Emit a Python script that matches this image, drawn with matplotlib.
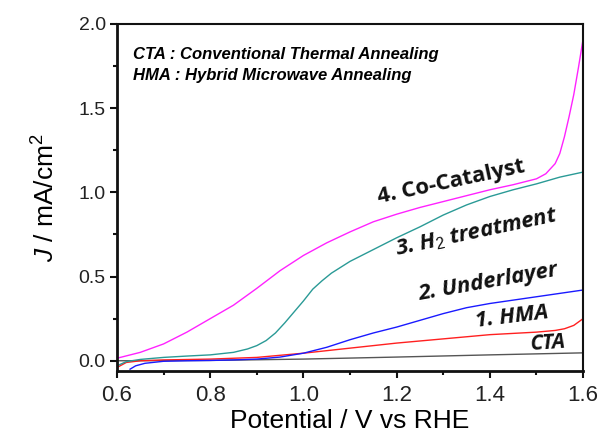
import numpy as np
import matplotlib.pyplot as plt
from matplotlib.ticker import MultipleLocator

# curvas J-V

x_cc = [0.60, 0.65, 0.70, 0.75, 0.80, 0.85, 0.90, 0.95, 1.00, 1.05, 1.10, 1.15, 1.20,
        1.25, 1.30, 1.35, 1.40, 1.45, 1.50, 1.52, 1.54, 1.55, 1.56, 1.57, 1.58, 1.59, 1.60]
y_cc = [0.015, 0.05, 0.10, 0.17, 0.25, 0.33, 0.43, 0.535, 0.625, 0.70, 0.765, 0.825, 0.87,
        0.91, 0.945, 0.98, 1.015, 1.045, 1.08, 1.11, 1.17, 1.23, 1.33, 1.45, 1.58, 1.74, 1.91]

x_h2 = [0.60, 0.62, 0.65, 0.70, 0.75, 0.80, 0.85, 0.88, 0.90, 0.92, 0.94, 0.96, 0.98, 1.00,
        1.02, 1.04, 1.06, 1.08, 1.10, 1.15, 1.20, 1.25, 1.30, 1.35, 1.40, 1.45, 1.50, 1.55, 1.60]
y_h2 = [-0.03, -0.005, 0.008, 0.02, 0.028, 0.035, 0.05, 0.07, 0.09, 0.12, 0.165, 0.225, 0.29, 0.355,
        0.425, 0.475, 0.52, 0.555, 0.59, 0.66, 0.73, 0.795, 0.865, 0.925, 0.975, 1.015, 1.05, 1.09, 1.12]

x_ul = [0.628, 0.64, 0.66, 0.70, 0.75, 0.80, 0.85, 0.90, 0.95, 1.00, 1.05, 1.10, 1.15,
        1.20, 1.25, 1.30, 1.35, 1.40, 1.45, 1.50, 1.55, 1.60]
y_ul = [-0.05, -0.03, -0.015, -0.003, 0.0, 0.002, 0.005, 0.01, 0.022, 0.045, 0.08, 0.125, 0.165,
        0.20, 0.24, 0.28, 0.315, 0.34, 0.36, 0.38, 0.40, 0.42]

x_hma = [0.60, 0.62, 0.65, 0.70, 0.80, 0.90, 1.00, 1.10, 1.20, 1.30, 1.40, 1.50, 1.54, 1.56, 1.58, 1.60]
y_hma = [-0.04, -0.01, 0.0, 0.005, 0.01, 0.02, 0.045, 0.075, 0.105, 0.13, 0.155, 0.17, 0.18, 0.19, 0.21, 0.25]

x_cta = [0.6, 0.8, 1.0, 1.2, 1.4, 1.6]
y_cta = [0.0, 0.002, 0.01, 0.022, 0.035, 0.047]

plt.rcParams['mathtext.fontset'] = 'custom'
plt.rcParams['mathtext.it'] = 'Liberation Sans:italic'
plt.rcParams['mathtext.rm'] = 'Liberation Sans'

fig = plt.figure(figsize=(6.03, 4.41), dpi=100)
ax = fig.add_axes([0.194, 0.159, 0.773, 0.787])

ax.plot(x_cta, y_cta, color='#555555', lw=1.0)
ax.plot(x_hma, y_hma, color='#ff2020', lw=1.0)
ax.plot(x_ul, y_ul, color='#1a1aff', lw=1.0)
ax.plot(x_h2, y_h2, color='#2a9a96', lw=1.0)
ax.plot(x_cc, y_cc, color='#ff22ff', lw=1.0)

ax.set_xlim(0.6, 1.6)
ax.set_ylim(-0.06, 2.0)
ax.xaxis.set_major_locator(MultipleLocator(0.2))
ax.xaxis.set_minor_locator(MultipleLocator(0.1))
ax.yaxis.set_major_locator(MultipleLocator(0.5))
ax.yaxis.set_minor_locator(MultipleLocator(0.25))
ax.tick_params(which='both', direction='out', top=False, right=False, width=1.5, color='#111111')
ax.tick_params(which='major', length=5)
ax.tick_params(which='minor', length=3)
ax.tick_params(axis='x', labelsize=16, pad=5, labelcolor='#222222')
ax.tick_params(axis='y', labelsize=14, pad=3, labelcolor='#222222')
ax.xaxis.set_major_formatter(plt.FormatStrFormatter('%.1f'))
ax.yaxis.set_major_formatter(plt.FormatStrFormatter('%.1f'))
for lab in ax.get_xticklabels() + ax.get_yticklabels():
    lab.set_family('Liberation Sans')

for s in ['left', 'bottom']:
    ax.spines[s].set_linewidth(2.0)
for s in ['top', 'right']:
    ax.spines[s].set_linewidth(1.5)
for s in ax.spines.values():
    s.set_color('#111111')

ax.set_xlabel('Potential / V vs RHE', fontsize=19, family='Liberation Sans', labelpad=2)
ax.set_ylabel(r'$J$ / mA/cm$^2$', fontsize=19, family='Liberation Sans', labelpad=14)

ax.text(0.035, 0.911, 'CTA : Conventional Thermal Annealing', transform=ax.transAxes,
        fontsize=12, family='Liberation Sans', weight='bold', style='italic', va='center')
ax.text(0.035, 0.850, 'HMA : Hybrid Microwave Annealing', transform=ax.transAxes,
        fontsize=12, family='Liberation Sans', weight='bold', style='italic', va='center')

lab_kw = dict(family='Open Sans', weight='bold', ha='center', va='center', color='#111111')
ax.text(1.317, 1.06, '4. Co-Catalyst', fontsize=16, rotation=12, **lab_kw)
ax.text(1.373, 0.76, r'3. H$_2$ treatment', fontsize=16, rotation=12, style='italic', **lab_kw)
ax.text(1.396, 0.465, '2. Underlayer', fontsize=16, rotation=10, style='italic', **lab_kw)
ax.text(1.448, 0.26, '1. HMA', fontsize=16, rotation=7, style='italic', **lab_kw)
ax.text(1.525, 0.105, 'CTA', fontsize=15, rotation=4, style='italic', **lab_kw)

plt.savefig('out.png', dpi=100)
